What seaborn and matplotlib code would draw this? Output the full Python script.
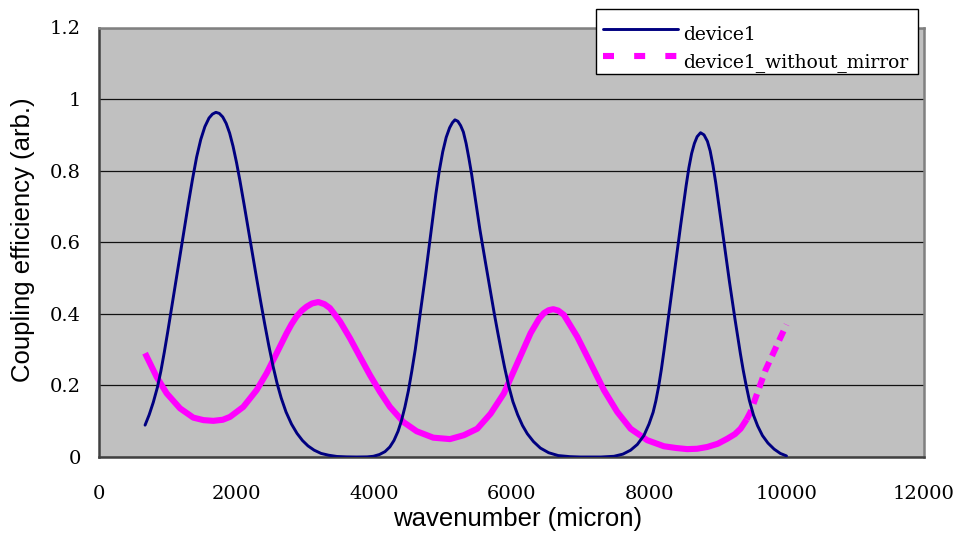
import numpy as np
import pandas as pd
import seaborn as sns
import matplotlib
matplotlib.use("Agg")
import matplotlib.pyplot as plt
from matplotlib.lines import Line2D
from matplotlib.patches import Rectangle
from matplotlib.legend_handler import HandlerLine2D

# ---- data -------------------------------------------------------------
device1_x = [670, 730, 790, 850, 900, 950, 1000, 1060, 1120, 1180, 1240, 1300,
             1360, 1420, 1480, 1540, 1600, 1650, 1700, 1750, 1800, 1850, 1900,
             1950, 2000, 2050, 2110, 2170, 2230, 2290, 2350, 2410, 2470, 2530,
             2590, 2650, 2720, 2800, 2880, 2960, 3040, 3130, 3230, 3340, 3460,
             3600, 3750, 3900, 3990, 4080, 4160, 4230, 4290, 4350, 4400, 4450,
             4500, 4550, 4600, 4650, 4700, 4750, 4800, 4850, 4900, 4950, 5000,
             5050, 5100, 5140, 5177, 5220, 5260, 5300, 5340, 5380, 5420, 5460,
             5500, 5540, 5580, 5620, 5660, 5700, 5750, 5800, 5850, 5900, 5960,
             6020, 6090, 6160, 6230, 6320, 6420, 6540, 6680, 6850, 7000, 7300,
             7490, 7620, 7732, 7830, 7926, 8000, 8060, 8100, 8140, 8180, 8220,
             8260, 8300, 8340, 8380, 8420, 8460, 8500, 8540, 8580, 8620, 8660,
             8700, 8750, 8800, 8850, 8890, 8930, 8970, 9010, 9050, 9090, 9130,
             9170, 9210, 9250, 9290, 9330, 9370, 9410, 9460, 9520, 9580, 9650,
             9730, 9820, 9910, 10000]
device1_y = [0.089, 0.118, 0.153, 0.195, 0.240, 0.293, 0.350, 0.421, 0.493, 0.565,
             0.637, 0.708, 0.776, 0.838, 0.887, 0.923, 0.947, 0.958, 0.963, 0.960,
             0.950, 0.932, 0.905, 0.868, 0.823, 0.772, 0.706, 0.638, 0.570, 0.502,
             0.436, 0.372, 0.311, 0.255, 0.206, 0.165, 0.126, 0.092, 0.066, 0.046,
             0.031, 0.019, 0.010, 0.005, 0.0015, 0.0004, 0.000, 0.0004, 0.002, 0.007,
             0.015, 0.028, 0.046, 0.072, 0.102, 0.140, 0.185, 0.240, 0.300, 0.370,
             0.440, 0.510, 0.585, 0.660, 0.735, 0.800, 0.853, 0.893, 0.920, 0.934,
             0.942, 0.938, 0.926, 0.908, 0.876, 0.835, 0.790, 0.738, 0.685, 0.636,
             0.590, 0.545, 0.500, 0.455, 0.400, 0.348, 0.298, 0.250, 0.198, 0.155,
             0.118, 0.088, 0.065, 0.043, 0.025, 0.012, 0.004, 0.001, 0.000, 0.000,
             0.002, 0.008, 0.019, 0.035, 0.060, 0.092, 0.125, 0.157, 0.197, 0.245,
             0.300, 0.358, 0.416, 0.474, 0.532, 0.590, 0.647, 0.703, 0.758, 0.808,
             0.848, 0.876, 0.895, 0.906, 0.900, 0.882, 0.855, 0.815, 0.767, 0.713,
             0.657, 0.601, 0.545, 0.490, 0.437, 0.386, 0.337, 0.288, 0.243, 0.203,
             0.158, 0.117, 0.087, 0.060, 0.039, 0.022, 0.010, 0.003]

nomirror_x = [670, 838, 984, 1178, 1372, 1520, 1663, 1800, 1905, 2099, 2293, 2438,
              2584, 2729, 2800, 2875, 2950, 3020, 3100, 3190, 3280, 3359, 3505,
              3650, 3796, 3941, 4087, 4232, 4426, 4620, 4862, 5105, 5308, 5502,
              5696, 5890, 6084, 6278, 6400, 6472, 6540, 6607, 6680, 6762, 6956,
              7150, 7344, 7538, 7732, 7974, 8217, 8400, 8556, 8700, 8847, 9000,
              9138, 9250, 9332, 9420, 9477, 9574, 9695, 9841, 10000]
nomirror_y = [0.290, 0.224, 0.178, 0.136, 0.110, 0.103, 0.101, 0.104, 0.112, 0.140,
              0.187, 0.234, 0.290, 0.346, 0.371, 0.393, 0.409, 0.420, 0.429, 0.433,
              0.427, 0.416, 0.379, 0.332, 0.280, 0.229, 0.182, 0.140, 0.098, 0.072,
              0.054, 0.050, 0.061, 0.079, 0.121, 0.178, 0.262, 0.346, 0.386, 0.402,
              0.410, 0.413, 0.409, 0.397, 0.336, 0.262, 0.187, 0.126, 0.079, 0.047,
              0.030, 0.025, 0.022, 0.023, 0.028, 0.037, 0.051, 0.064, 0.079, 0.105,
              0.126, 0.178, 0.243, 0.304, 0.370]

series_names = ["device1", "device1_without_mirror"]
x_ticks = [0, 2000, 4000, 6000, 8000, 10000, 12000]
x_tick_labels = ["0", "2000", "4000", "6000", "8000", "10000", "12000"]
y_ticks = [0, 0.2, 0.4, 0.6, 0.8, 1.0, 1.2]
y_tick_labels = ["0", "0.2", "0.4", "0.6", "0.8", "1", "1.2"]
x_label = "wavenumber (micron)"
y_label = "Coupling efficiency (arb.)"

# ---- styling ----------------------------------------------------------
sns.set_style("white")
plt.rcParams["font.family"] = ["DejaVu Serif"]
plt.rcParams["text.color"] = "black"
plt.rcParams["axes.labelcolor"] = "black"

NAVY = "#000080"
MAGENTA = "#FF00FF"
DASH_SPLIT = 9420  # steep tail of the no-mirror curve is drawn dashed

dev = pd.DataFrame({"x": device1_x, "y": device1_y})
nm = pd.DataFrame({"x": nomirror_x, "y": nomirror_y})
nm_solid = nm[nm["x"] <= DASH_SPLIT]
nm_dash = nm[nm["x"] >= DASH_SPLIT]

fig = plt.figure(figsize=(9.58, 5.40), dpi=100)
W, H = 958, 540
ax = fig.add_axes([99 / W, 83 / H, 825 / W, 429.5 / H])
ax.set_facecolor("#C0C0C0")

sns.lineplot(data=dev, x="x", y="y", ax=ax, color=NAVY, lw=2.1,
             sort=False, estimator=None, zorder=3)
sns.lineplot(data=nm_solid, x="x", y="y", ax=ax, color=MAGENTA, lw=4.4,
             sort=False, estimator=None, zorder=2, solid_capstyle="butt")
sns.lineplot(data=nm_dash, x="x", y="y", ax=ax, color=MAGENTA, lw=4.4,
             sort=False, estimator=None, zorder=2, dashes=[(1.7, 1.1)],
             style=np.zeros(len(nm_dash)), legend=False, dash_capstyle="butt")

ax.set_xlim(0, 12000)
ax.set_ylim(0, 1.2)
ax.set_xticks(x_ticks)
ax.set_xticklabels(x_tick_labels)
ax.set_yticks(y_ticks)
ax.set_yticklabels(y_tick_labels)

ax.yaxis.grid(True, color="#111111", lw=0.9)
ax.xaxis.grid(False)
ax.set_axisbelow(True)

for side in ("left", "bottom"):
    ax.spines[side].set_color("#404040")
    ax.spines[side].set_linewidth(1.8)
for side in ("top", "right"):
    ax.spines[side].set_color("#808080")
    ax.spines[side].set_linewidth(1.8)

ax.tick_params(axis="both", direction="in", length=6, width=1.0,
               color="#303030", labelsize=14, labelcolor="black")
ax.tick_params(axis="x", pad=20)
ax.tick_params(axis="y", pad=13)

ax.set_xlabel(x_label, family="Liberation Sans", fontsize=18.5)
ax.set_ylabel(y_label, family="Liberation Sans", fontsize=18.5)
ax.xaxis.set_label_coords(0.507, -0.117)
ax.yaxis.set_label_coords(-0.077, 0.505)


# ---- legend: keys sit a little above the text centre ---------------------
class RaisedLine(HandlerLine2D):
    def __init__(self, raise_by=3.4, **kw):
        super().__init__(**kw)
        self.raise_by = raise_by

    def create_artists(self, legend, orig_handle, xdescent, ydescent,
                       width, height, fontsize, trans):
        artists = super().create_artists(legend, orig_handle, xdescent, ydescent,
                                         width, height, fontsize, trans)
        for a in artists:
            a.set_ydata(np.asarray(a.get_ydata(), dtype=float) + self.raise_by)
        return artists


legend_box = Rectangle((596 / W, (H - 74) / H), 322 / W, 65 / H,
                       transform=fig.transFigure, facecolor="white",
                       edgecolor="black", lw=1.0, zorder=9, clip_on=False)
ax.add_artist(legend_box)

handles = [
    Line2D([], [], color=NAVY, lw=2.1),
    Line2D([], [], color=MAGENTA, lw=4.4, dashes=(1.8, 3.3), dash_capstyle="butt"),
]
leg = ax.legend(handles, series_names, loc="upper left",
                bbox_to_anchor=(586 / W, (H - 9) / H), bbox_transform=fig.transFigure,
                frameon=False, fontsize=13.5, handlelength=4.0, handletextpad=0.27,
                labelspacing=0.48, borderpad=0.92, borderaxespad=0,
                handler_map={Line2D: RaisedLine()})
leg.set_zorder(10)

fig.savefig("out.png", dpi=100)
